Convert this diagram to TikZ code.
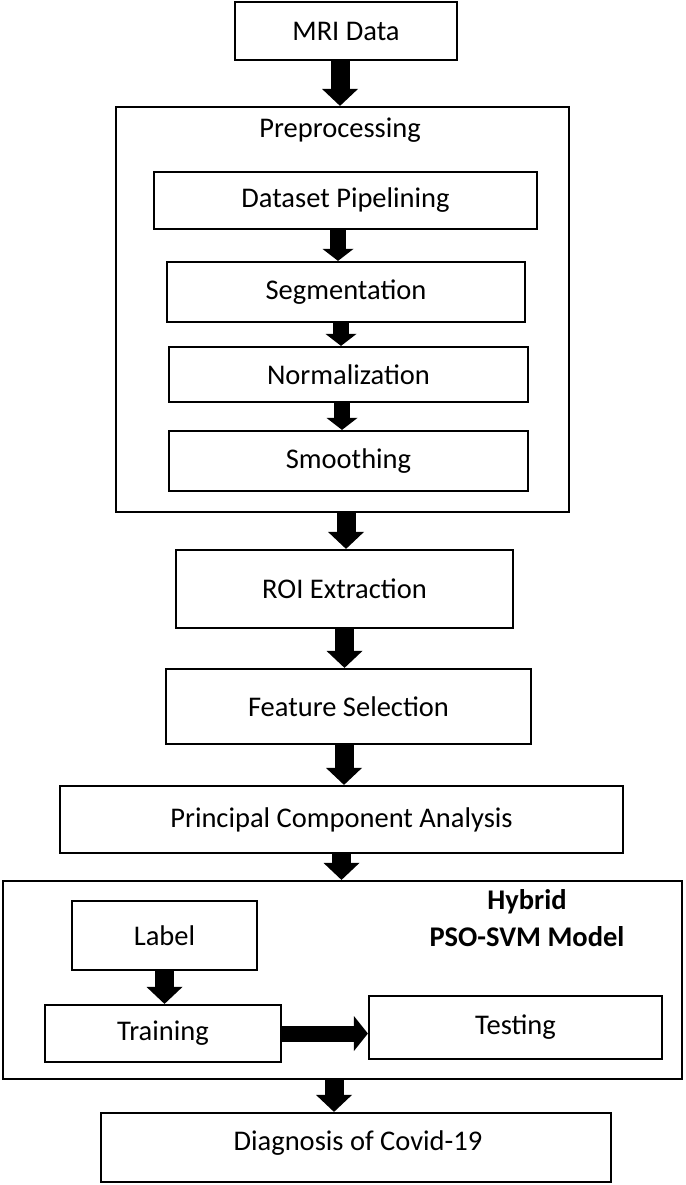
\documentclass[tikz,border=0pt]{standalone}
\usepackage{fontspec}
\setmainfont{Carlito}
\usetikzlibrary{arrows.meta}
\begin{document}
\begin{tikzpicture}[x=1pt,y=-1pt,
  box/.style={draw=black,line width=2.2pt,inner sep=0pt,fill=white,
    font=\fontsize{28.5}{33}\selectfont},
  bigarrow/.style={line width=19pt,
    -{Triangle[width=36pt 0 0,length=17pt 0 0,line width=0pt 0]}},
  smallarrow/.style={line width=16pt,
    -{Triangle[width=31pt 0 0,length=12pt 0 0,line width=0pt 0]}},
  sidearrow/.style={line width=16pt,
    -{Triangle[width=35pt 0 0,length=14pt 0 0,line width=0pt 0]}},
  title/.style={inner sep=0pt,font=\fontsize{28.5}{33}\selectfont}]
\useasboundingbox (0,0) rectangle (685,1185);
\fill[white] (0,0) rectangle (685,1185);
% containers
\node[box,minimum width=453pt,minimum height=405pt] (pre) at (342.5,309.5) {};
\node[box,minimum width=679pt,minimum height=198pt] (hyb) at (342.5,980) {};
% boxes
\node[box,minimum width=222pt,minimum height=58pt] (mri) at (346,31) {MRI Data};
\node[title] (pretitle) at (340,130) {Preprocessing};
\node[box,minimum width=383pt,minimum height=57pt] (ds) at (345.5,200.5) {Dataset Pipelining};
\node[box,minimum width=358pt,minimum height=60pt] (seg) at (346,292) {Segmentation};
\node[box,minimum width=359pt,minimum height=55pt] (norm) at (348.5,374.5) {Normalization};
\node[box,minimum width=359pt,minimum height=60pt] (smooth) at (348.5,461) {Smoothing};
\node[box,minimum width=337pt,minimum height=78pt] (roi) at (344.5,589) {ROI Extraction};
\node[box,minimum width=365pt,minimum height=75pt] (fs) at (348.5,706.5) {Feature Selection};
\node[box,minimum width=563pt,minimum height=67pt] (pca) at (341.5,819.5) {Principal Component Analysis};
\node[title,font=\fontsize{28.5}{33}\selectfont\bfseries] (hybt1) at (527,902) {Hybrid};
\node[title,font=\fontsize{28.5}{33}\selectfont\bfseries] (hybt2) at (527,937) {PSO-SVM Model};
\node[box,minimum width=185pt,minimum height=69pt] (label) at (164.5,935.5) {Label};
\node[box,minimum width=236pt,minimum height=57pt] (train) at (163,1033.5) {Training};
\node[box,minimum width=293pt,minimum height=63pt] (test) at (515.5,1027.5) {Testing};
\node[box,minimum width=510pt,minimum height=69pt] (diag) at (356,1147.5) {};
\node[title] (diagt) at (358,1143) {Diagnosis of Covid-19};
% connectors
\draw[bigarrow] ([xshift=-6pt]mri.south) -- ([xshift=-6pt]mri.south |- pre.north);
\draw[smallarrow] ([xshift=-7.5pt]ds.south) -- ([xshift=-7.5pt]ds.south |- seg.north);
\draw[smallarrow] ([xshift=-5pt]seg.south) -- ([xshift=-5pt]seg.south |- norm.north);
\draw[smallarrow] ([xshift=-6.5pt]norm.south) -- ([xshift=-6.5pt]norm.south |- smooth.north);
\draw[bigarrow] ([xshift=3.5pt]pre.south) -- ([xshift=3.5pt]pre.south |- roi.north);
\draw[bigarrow] (roi.south) -- (roi.south |- fs.north);
\draw[bigarrow] ([xshift=-4.5pt]fs.south) -- ([xshift=-4.5pt]fs.south |- pca.north);
\draw[bigarrow] (pca.south) -- (pca.south |- hyb.north);
\draw[bigarrow] (label.south) -- (label.south |- train.north);
\draw[sidearrow] (train.east) -- (train.east -| test.west);
\draw[bigarrow] ([xshift=-8.5pt]hyb.south) -- ([xshift=-8.5pt]hyb.south |- diag.north);
\end{tikzpicture}
\end{document}
